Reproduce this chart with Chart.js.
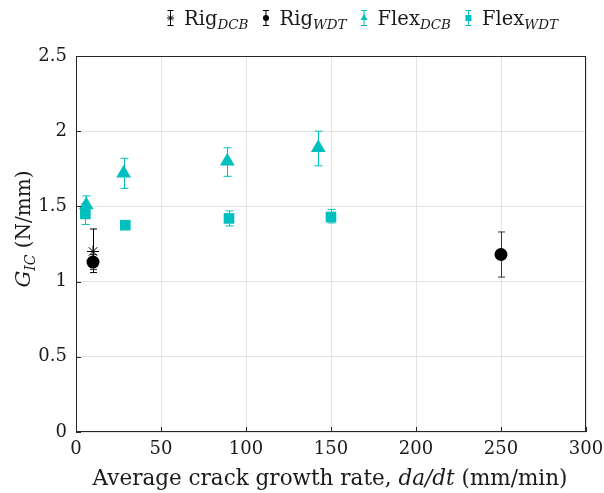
<!DOCTYPE html>
<html><head><meta charset="utf-8">
<script src="https://cdn.jsdelivr.net/npm/chart.js@4"></script>
<style>html,body{margin:0;padding:0;background:#fff}#wrap{width:604px;height:493px}</style>
</head><body><div id="wrap"><canvas id="c" width="604" height="493"></canvas></div>
<script>
// ---- data ----
const rigDcbX = [10];
const rigDcbY = [1.20];
const rigDcbLo = [1.06];
const rigDcbHi = [1.35];

const rigWdtX = [10, 250];
const rigWdtY = [1.13, 1.18];
const rigWdtLo = [1.08, 1.03];
const rigWdtHi = [1.18, 1.33];

const flexDcbX = [6, 28, 89, 142.5];
const flexDcbY = [1.51, 1.72, 1.80, 1.89];
const flexDcbLo = [1.46, 1.62, 1.70, 1.77];
const flexDcbHi = [1.57, 1.82, 1.89, 2.00];

const flexWdtX = [5.5, 29, 90, 150];
const flexWdtY = [1.45, 1.375, 1.42, 1.43];
const flexWdtLo = [1.38, 1.36, 1.37, 1.39];
const flexWdtHi = [1.52, 1.39, 1.47, 1.48];

const xTicks = [0, 50, 100, 150, 200, 250, 300];
const yTicks = [0, 0.5, 1, 1.5, 2, 2.5];

const legendNames = [['Rig','DCB'], ['Rig','WDT'], ['Flex','DCB'], ['Flex','WDT']];

const TEAL = 'rgb(0,191,191)';
const BLACK = '#000000';
const SERIF = '"DejaVu Serif", "Liberation Serif", serif';

function pts(xs, ys) { return xs.map((x, i) => ({x: x, y: ys[i]})); }

const errLo = [rigDcbLo, rigWdtLo, flexDcbLo, flexWdtLo];
const errHi = [rigDcbHi, rigWdtHi, flexDcbHi, flexWdtHi];

const errorBars = {
  id: 'errorBars',
  beforeDatasetsDraw(chart) {
    const ctx = chart.ctx, ys = chart.scales.y;
    chart.data.datasets.forEach((ds, di) => {
      const meta = chart.getDatasetMeta(di);
      ctx.save();
      ctx.strokeStyle = ds.errColor;
      ctx.lineWidth = 1;
      meta.data.forEach((el, i) => {
        const x = Math.round(el.x) + 0.5;
        const yl = ys.getPixelForValue(errLo[di][i]);
        const yh = ys.getPixelForValue(errHi[di][i]);
        const cw = ds.capW;
        ctx.beginPath();
        ctx.moveTo(x, yl); ctx.lineTo(x, yh);
        ctx.moveTo(x - cw, yl); ctx.lineTo(x + cw, yl);
        ctx.moveTo(x - cw, yh); ctx.lineTo(x + cw, yh);
        ctx.stroke();
      });
      ctx.restore();
    });
  }
};

function drawMarker(ctx, style, x, y, r, color) {
  ctx.save();
  ctx.fillStyle = color; ctx.strokeStyle = color; ctx.lineWidth = 1;
  ctx.beginPath();
  if (style === 'circle') { ctx.arc(x, y, r, 0, Math.PI * 2); ctx.fill(); }
  else if (style === 'triangle') {
    for (let k = 0; k < 3; k++) {
      const a = k * 2 * Math.PI / 3;
      const px = x + Math.sin(a) * r, py = y - Math.cos(a) * r;
      k ? ctx.lineTo(px, py) : ctx.moveTo(px, py);
    }
    ctx.closePath(); ctx.fill();
  } else if (style === 'rect') { ctx.rect(x - r, y - r, 2 * r, 2 * r); ctx.fill(); }
  else if (style === 'star') {
    for (let k = 0; k < 4; k++) {
      const a = k * Math.PI / 4;
      ctx.moveTo(x - Math.cos(a) * r, y - Math.sin(a) * r);
      ctx.lineTo(x + Math.cos(a) * r, y + Math.sin(a) * r);
    }
    ctx.stroke();
  }
  ctx.restore();
}

const frame = {
  id: 'frame',
  afterDraw(chart) {
    const ctx = chart.ctx, a = chart.chartArea;
    const xs = chart.scales.x, ys = chart.scales.y;
    ctx.save();
    ctx.strokeStyle = '#262626'; ctx.lineWidth = 1;
    ctx.strokeRect(Math.round(a.left) + 0.5, Math.round(a.top) + 0.5, Math.round(a.right - a.left) - 1, Math.round(a.bottom - a.top) - 1);
    ctx.beginPath();
    const tl = 5;
    xTicks.forEach(v => {
      const px = Math.round(xs.getPixelForValue(v)) + 0.5;
      ctx.moveTo(px, a.bottom); ctx.lineTo(px, a.bottom - tl);
    });
    yTicks.forEach(v => {
      const py = Math.round(ys.getPixelForValue(v)) + 0.5;
      ctx.moveTo(a.left, py); ctx.lineTo(a.left + tl, py);
    });
    ctx.stroke();

    // x axis title
    ctx.fillStyle = '#1a1a1a';
    ctx.textBaseline = 'alphabetic';
    const parts = [['Average crack growth rate, ', 'normal'], ['da/dt', 'italic'], [' (mm/min)', 'normal']];
    const fs = 21.5;
    let tw = 0;
    parts.forEach(p => { ctx.font = p[1] + ' ' + fs + 'px ' + SERIF; tw += ctx.measureText(p[0]).width; });
    let cx = 330 - tw / 2;
    parts.forEach(p => { ctx.font = p[1] + ' ' + fs + 'px ' + SERIF; ctx.fillText(p[0], cx, 485); cx += ctx.measureText(p[0]).width; });

    // y axis title
    ctx.save();
    ctx.translate(30, 229);
    ctx.rotate(-Math.PI / 2);
    const yp = [['G', 'italic', 21, 0], ['IC', 'italic', 14, 5], [' (N/mm)', 'normal', 20, 0]];
    tw = 0;
    yp.forEach(p => { ctx.font = p[1] + ' ' + p[2] + 'px ' + SERIF; tw += ctx.measureText(p[0]).width; });
    cx = -tw / 2;
    yp.forEach(p => { ctx.font = p[1] + ' ' + p[2] + 'px ' + SERIF; ctx.fillText(p[0], cx, p[3]); cx += ctx.measureText(p[0]).width; });
    ctx.restore();

    // legend
    const styles = ['star', 'circle', 'triangle', 'rect'];
    const colors = [BLACK, BLACK, TEAL, TEAL];
    const sizes = [3.5, 3, 4, 3];
    let lx = 170;
    const ly = 18;
    legendNames.forEach((nm, i) => {
      ctx.strokeStyle = colors[i]; ctx.lineWidth = 1;
      ctx.beginPath();
      ctx.moveTo(lx + 0.5, ly - 7); ctx.lineTo(lx + 0.5, ly + 7);
      ctx.moveTo(lx - 2.5, ly - 7.5); ctx.lineTo(lx + 3.5, ly - 7.5);
      ctx.moveTo(lx - 2.5, ly + 7.5); ctx.lineTo(lx + 3.5, ly + 7.5);
      ctx.stroke();
      drawMarker(ctx, styles[i], lx + 0.5, ly, sizes[i], colors[i]);
      let tx = lx + 14;
      ctx.fillStyle = '#1a1a1a';
      ctx.font = 'normal 19.5px ' + SERIF;
      ctx.fillText(nm[0], tx, ly + 7);
      tx += ctx.measureText(nm[0]).width;
      ctx.font = 'italic 13.5px ' + SERIF;
      ctx.fillText(nm[1], tx, ly + 11);
      tx += ctx.measureText(nm[1]).width;
      lx = tx + 17;
    });
    ctx.restore();
  }
};

const tickFont = {family: SERIF, size: 18};

new Chart(document.getElementById('c'), {
  type: 'scatter',
  data: {
    datasets: [
      {label: 'RigDCB', data: pts(rigDcbX, rigDcbY), pointStyle: 'star', pointRadius: 6, borderColor: BLACK, backgroundColor: BLACK, borderWidth: 1, errColor: BLACK, capW: 3.5},
      {label: 'RigWDT', data: pts(rigWdtX, rigWdtY), pointStyle: 'circle', pointRadius: 6.5, borderColor: BLACK, backgroundColor: BLACK, borderWidth: 0, errColor: '#333', capW: 3.5},
      {label: 'FlexDCB', data: pts(flexDcbX, flexDcbY), pointStyle: 'triangle', pointRadius: 8.5, borderColor: TEAL, backgroundColor: TEAL, borderWidth: 0, errColor: TEAL, capW: 4},
      {label: 'FlexWDT', data: pts(flexWdtX, flexWdtY), pointStyle: 'rect', pointRadius: 7.5, borderColor: TEAL, backgroundColor: TEAL, borderWidth: 0, errColor: TEAL, capW: 4}
    ]
  },
  options: {
    responsive: false,
    animation: false,
    devicePixelRatio: 1,
    layout: {padding: {left: 0, right: 18, top: 56, bottom: 0}},
    plugins: {legend: {display: false}, tooltip: {enabled: false}},
    scales: {
      x: {
        type: 'linear', min: 0, max: 300,
        afterBuildTicks: s => { s.ticks = xTicks.map(v => ({value: v})); },
        afterFit: s => { s.height = 61; s.paddingLeft = 0; s.paddingRight = 0; },
        grid: {color: '#e3e3e3', drawTicks: false},
        border: {display: false},
        ticks: {font: tickFont, color: '#1a1a1a', padding: 7, maxRotation: 0, callback: v => String(v)}
      },
      y: {
        type: 'linear', min: 0, max: 2.5,
        afterBuildTicks: s => { s.ticks = yTicks.map(v => ({value: v})); },
        afterFit: s => { s.width = 76; s.paddingTop = 0; s.paddingBottom = 0; },
        grid: {color: '#e3e3e3', drawTicks: false},
        border: {display: false},
        ticks: {font: tickFont, color: '#1a1a1a', padding: 9, callback: v => String(v)}
      }
    }
  },
  plugins: [errorBars, frame]
});
</script></body></html>
